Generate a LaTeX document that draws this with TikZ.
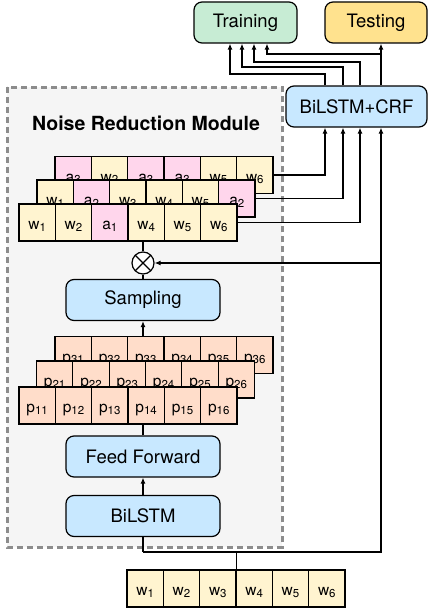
\documentclass[tikz,border=0pt]{standalone}
\usepackage{fontspec}
\setmainfont{TeX Gyre Heros}
\usepackage{xcolor}
\usepackage{tikz}
\usetikzlibrary{arrows.meta,positioning,calc}

\definecolor{boxblue}{RGB}{200,232,255}
\definecolor{boxgreen}{RGB}{199,236,212}
\definecolor{boxyellow}{RGB}{255,226,142}
\definecolor{cellw}{RGB}{255,244,208}
\definecolor{cella}{RGB}{255,214,236}
\definecolor{cellp}{RGB}{255,221,202}
\definecolor{modfill}{RGB}{245,245,245}
\definecolor{modline}{RGB}{140,140,140}

% 下标
\newcommand{\lo}[1]{\raisebox{-1.5pt}{\fontsize{11.5}{12}\selectfont #1}}

\tikzset{
  block/.style={draw, line width=1.2pt, rounded corners=8pt, fill=boxblue,
    minimum width=154pt, minimum height=41pt, inner sep=0pt,
    font=\fontsize{18.5}{21}\selectfont},
  cell/.style={draw, line width=1.2pt, minimum width=36.33pt, minimum height=37pt,
    inner sep=0pt, text height=14pt, text depth=0pt, font=\fontsize{15.5}{17}\selectfont},
  arr/.style={-{Latex[length=6pt,width=5pt]}, line width=1.2pt},
  link/.style={line width=1.2pt},
  mixer/.style={circle, draw, line width=1.2pt, fill=white, minimum size=22pt, inner sep=0pt,
    path picture={\draw[line width=1.2pt]
      (path picture bounding box.north west) -- (path picture bounding box.south east)
      (path picture bounding box.south west) -- (path picture bounding box.north east);}},
}

\begin{document}
\begin{tikzpicture}[x=1pt, y=-1pt]
  \useasboundingbox (0,0) rectangle (428,610);
  % 虚线框 噪声消减模块
  \draw[modline, fill=modfill, line width=3pt, dash pattern=on 6pt off 4pt] (7,87) rectangle (282,547);
  \node[font=\bfseries\fontsize{19.5}{22}\selectfont] (title) at (146,123) {Noise Reduction Module};

  % 上方的结果框
  \node[block, fill=boxgreen, minimum width=103pt] (train) at (245.5,22.5) {Training};
  \node[block, fill=boxyellow, minimum width=102pt] (test) at (376,22.5) {Testing};
  \node[block, minimum width=141pt] (crf) at (356.5,106.5) {BiLSTM+CRF};

  % 采样后的三行句子, 从后往前画
  \foreach \t/\n/\c [count=\i] in {a/3/cella, w/2/cellw, a/3/cella, a/3/cella, w/5/cellw, w/6/cellw}
    \node[cell, fill=\c] (s3c\i) at ({55+36.33*(\i-0.5)},175) {\t\lo{\n}};
  \foreach \t/\n/\c [count=\i] in {w/1/cellw, a/2/cella, w/3/cellw, w/4/cellw, w/5/cellw, a/2/cella}
    \node[cell, fill=\c] (s2c\i) at ({37+36.33*(\i-0.5)},198.5) {\t\lo{\n}};
  \foreach \t/\n/\c [count=\i] in {w/1/cellw, w/2/cellw, a/1/cella, w/4/cellw, w/5/cellw, w/6/cellw}
    \node[cell, fill=\c] (s1c\i) at ({19+36.33*(\i-0.5)},222.5) {\t\lo{\n}};

  \node[mixer] (mix) at (143,263) {};
  \node[block] (samp) at (143,300) {Sampling};

  % 概率矩阵 p
  \foreach \r/\x/\y in {3/55/355, 2/36.5/379.5, 1/19/405.5}
    \foreach \i in {1,...,6}
      \node[cell, fill=cellp] (p\r c\i) at ({\x+36.33*(\i-0.5)},\y) {p\lo{\r\i}};

  \node[block] (ff) at (143,456.5) {Feed Forward};
  \node[block] (bl) at (143,516) {BiLSTM};

  % 输入句子
  \foreach \i in {1,...,6}
    \node[cell, fill=cellw] (in\i) at ({127+36.33*(\i-0.5)},588.5) {w\lo{\i}};

  % 连线
  \foreach \i/\x in {1/325, 2/343, 3/360, 4/381}
    \coordinate (k\i) at (\x,0);
  \coordinate (bus) at (143,552);
  \coordinate (b1) at (230,74);
  \coordinate (b2) at (242,67);
  \coordinate (b3) at (254,62);
  \coordinate (b4) at (267,54);

  \draw[link] (in3.north east) -- (in3.north east |- bus);
  \draw[link] (bl.south) -- (bus);
  \draw[arr] (bus) -| (crf.south -| k4);
  \draw[arr] (k4 |- mix.east) -- (mix.east);
  \draw[arr] (bl.north) -- (ff.south);
  \draw[link] (ff.north) -- (ff.north |- p1c1.south);
  \draw[arr] (samp.south |- p3c1.north) -- (samp.south);
  \draw[link] (samp.north) -- (mix.south);
  \draw[link] (mix.north) -- (mix.north |- s1c1.south);

  \draw[arr] (s3c6.east) -| (crf.south -| k1);
  \draw[arr] (s2c6.east) -| (crf.south -| k2);
  \draw[arr] (s1c6.east) -| (crf.south -| k3);

  \draw[arr] (crf.north -| k1) |- (b1) -- (train.south -| b1);
  \draw[arr] (crf.north -| k2) |- (b2) -- (train.south -| b2);
  \draw[arr] (crf.north -| k3) |- (b3) -- (train.south -| b3);
  \draw[arr] (crf.north -| k4) -- (test.south -| k4);
  \draw[arr] (k4 |- b4) -- (b4) -- (train.south -| b4);
\end{tikzpicture}
\end{document}
